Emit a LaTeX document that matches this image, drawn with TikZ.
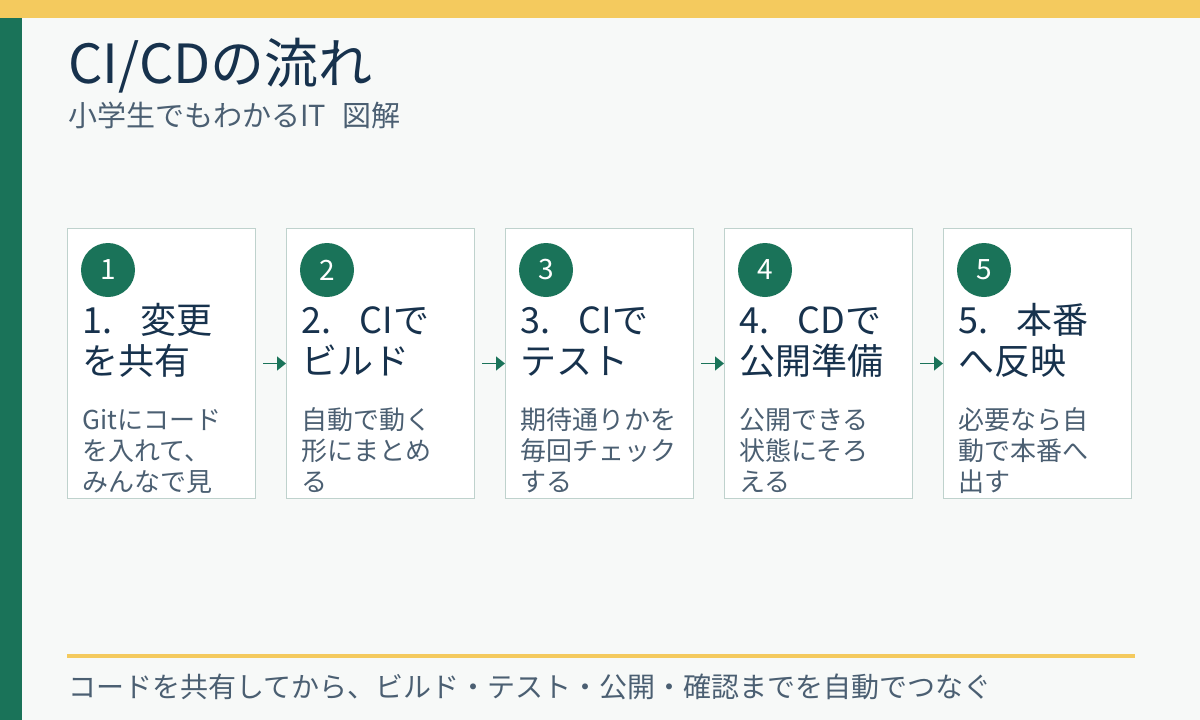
\documentclass[tikz,border=0pt]{standalone}
\usepackage{fontspec}
\setmainfont{Noto Sans CJK JP}
\usetikzlibrary{arrows.meta}
\definecolor{ribbon}{HTML}{F4CA5E}
\definecolor{leaf}{HTML}{1A7359}
\definecolor{ink}{HTML}{17324D}
\definecolor{slate}{HTML}{4B5F72}
\definecolor{paper}{HTML}{F7F9F8}
\definecolor{edge}{HTML}{BFD2CD}

\begin{document}
\begin{tikzpicture}[x=1pt, y=-1pt,
  card/.style={draw=edge, fill=white, line width=1pt, minimum width=188pt, minimum height=270pt, anchor=north west, inner sep=0pt},
  badge/.style={circle, fill=leaf, minimum size=54pt, inner sep=0pt, text=white, font=\fontsize{28}{28}\selectfont},
  head/.style={anchor=base west, align=left, inner sep=0pt, text=ink, font=\fontsize{36}{41}\selectfont},
  note/.style={anchor=base west, align=left, inner sep=0pt, text=slate, font=\fontsize{26}{31}\selectfont},
  flow/.style={-{Triangle[length=9pt,width=14pt]}, leaf, line width=1.5pt, shorten <=7pt}]
\fill[paper] (0,0) rectangle (1200,720);
\useasboundingbox (0,0) rectangle (1200,720);
% frame
\fill[ribbon] (0,0) rectangle (1200,18);
\fill[leaf] (0,18) rectangle (22,720);
\node[anchor=base west, inner sep=0pt, text=ink, font=\fontsize{54}{54}\selectfont] (title) at (68,83) {CI/CDの流れ};
\node[anchor=base west, inner sep=0pt, text=slate, font=\fontsize{29}{29}\selectfont] (subtitle) at (68,126) {小学生でもわかるIT\hspace{0.55em}図解};

% step 1
\node[card] (c1) at (67,228) {};
\node[badge] (b1) at (108,270) {1};
\node[head] (h1) at (82,374) {1.\hspace{0.8em}変更\\を共有};
\node[note] (n1) at (82,491) {Gitにコード\\を入れて、\\みんなで見};

% step 2
\node[card] (c2) at (286,228) {};
\node[badge] (b2) at (327,270) {2};
\node[head] (h2) at (301,374) {2.\hspace{0.8em}CIで\\ビルド};
\node[note] (n2) at (301,491) {自動で動く\\形にまとめ\\る};

% step 3
\node[card] (c3) at (505,228) {};
\node[badge] (b3) at (546,270) {3};
\node[head] (h3) at (520,374) {3.\hspace{0.8em}CIで\\テスト};
\node[note] (n3) at (520,491) {期待通りかを\\毎回チェック\\する};

% step 4
\node[card] (c4) at (724,228) {};
\node[badge] (b4) at (765,270) {4};
\node[head] (h4) at (739,374) {4.\hspace{0.8em}CDで\\公開準備};
\node[note] (n4) at (739,491) {公開できる\\状態にそろ\\える};

% step 5
\node[card] (c5) at (943,228) {};
\node[badge] (b5) at (984,270) {5};
\node[head] (h5) at (958,374) {5.\hspace{0.8em}本番\\へ反映};
\node[note] (n5) at (958,491) {必要なら自\\動で本番へ\\出す};

\draw[flow] (c1.east) -- (c2.west);
\draw[flow] (c2.east) -- (c3.west);
\draw[flow] (c3.east) -- (c4.west);
\draw[flow] (c4.east) -- (c5.west);

% footer
\draw[ribbon, line width=4pt] (67,656) -- (1135,656);
\node[anchor=base west, inner sep=0pt, text=slate, font=\fontsize{28}{28}\selectfont] (footer) at (68,697) {コードを共有してから、ビルド・テスト・公開・確認までを自動でつなぐ};
\end{tikzpicture}
\end{document}
